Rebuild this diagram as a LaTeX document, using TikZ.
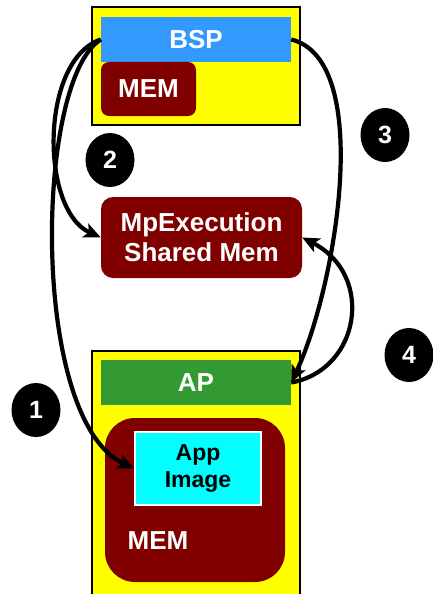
\documentclass[tikz,border=0pt]{standalone}
\usepackage{fontspec}
\setmainfont{Liberation Sans}
\usepackage{tikz}
\usetikzlibrary{shapes,shapes.geometric}
\usetikzlibrary{arrows.meta}
\definecolor{chipyellow}{RGB}{255,255,0}
\definecolor{bspblue}{RGB}{51,153,255}
\definecolor{apgreen}{RGB}{51,153,51}
\definecolor{memred}{RGB}{128,0,0}
\definecolor{imgcyan}{RGB}{0,255,255}
\tikzset{
	chip/.style={draw=black,line width=1.5pt,fill=chipyellow,inner sep=0pt},
	bar/.style={inner sep=0pt,minimum width=190pt,minimum height=45pt,text=white,font=\bfseries\fontsize{26}{30}\selectfont},
	memblock/.style={fill=memred,inner sep=0pt,text=white,align=center,font=\bfseries\fontsize{26}{30}\selectfont},
	stepmark/.style={ellipse,fill=black,inner sep=0pt,minimum width=49pt,minimum height=54pt,text=white,font=\bfseries\fontsize{25}{30}\selectfont},
	flow/.style={line width=4.2pt,-{Stealth[length=17pt,width=15pt,inset=4pt]}}
}

\begin{document}
\begin{tikzpicture}[x=1pt,y=-1pt]
							\useasboundingbox (0,0) rectangle (432,594);
							% boot processor
							\draw (196,66) node[chip,minimum width=208pt,minimum height=118pt] (bspbox) {};
							\draw (196,39.5) node[bar,fill=bspblue] (bsp) {BSP};
							\draw (148.5,89) node[memblock,rounded corners=8pt,minimum width=95pt,minimum height=54pt] (bspmem) {MEM};
							
							% shared area
							\draw (201.5,237.5) node[memblock,rounded corners=12pt,minimum width=201pt,minimum height=81pt] (shared) {MpExecution\\Shared Mem};
							
							% application processor
							\draw (196,474) node[chip,minimum width=208pt,minimum height=246pt] (apbox) {};
							\draw (196,382.5) node[bar,fill=apgreen] (ap) {AP};
							\draw (195,500) node[memblock,rounded corners=30pt,minimum width=180pt,minimum height=164pt] (apmem) {};
							\draw (198,468.5) node[draw=white,line width=1.2pt,fill=imgcyan,inner sep=0pt,minimum width=126pt,minimum height=73pt,align=center,font=\bfseries\fontsize{23}{27}\selectfont] (appimg) {App\\Image};
							\draw (158,541) node[text=white,font=\bfseries\fontsize{26}{30}\selectfont] (apmemlabel) {MEM};
							
							% step numbers
							\draw (36,410) node[stepmark] (one) {1};
							\draw (110,160) node[stepmark] (two) {2};
							\draw (385,135) node[stepmark] (three) {3};
							\draw (409,355) node[stepmark] (four) {4};
							
							% arrows
							\draw[flow] (bsp.west) .. controls +(-66,40.5) and +(-105,-48.5) .. (appimg.west);
							\draw[flow] (bsp.west) .. controls +(-61,20.5) and +(-61,-27.5) .. (shared.west);
							\draw[flow] (bsp.east) .. controls +(84,20.5) and +(44,-92.5) .. (ap.east);
							\draw[flow] (ap.east) .. controls +(69,-12.5) and +(73,37.5) .. (shared.east);
					\end{tikzpicture}
\end{document}
